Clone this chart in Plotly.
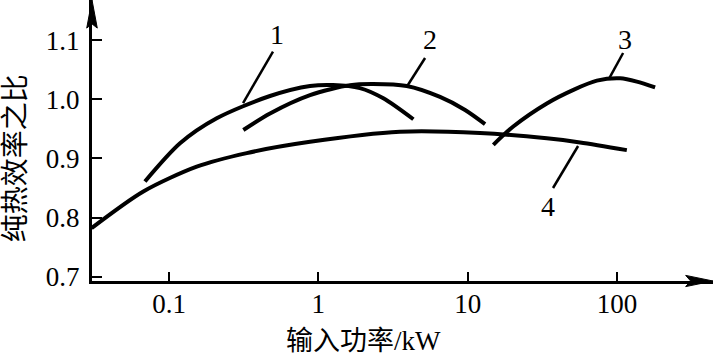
import numpy as np
import plotly.graph_objects as go

# ---- data ----
c1_x = [0.069, 0.1185, 0.2087, 0.4747, 0.880, 1.254, 1.9, 2.725, 4.33]
c1_y = [0.861, 0.9256, 0.9679, 1.0056, 1.0225, 1.0242, 1.019, 1.0017, 0.9662]

c2_x = [0.3146, 0.4747, 0.880, 1.63, 2.325, 3.91, 6.53, 9.61, 13.08]
c2_y = [0.948, 0.976, 1.007, 1.024, 1.026, 1.0225, 1.004, 0.982, 0.958]

c3_x = [14.86, 20.2, 33.9, 51.1, 73.3, 105, 135.8, 180]
c3_y = [0.923, 0.954, 0.993, 1.016, 1.0315, 1.0355, 1.030, 1.020]

c4_x = [0.0303, 0.0673, 0.1533, 0.3315, 0.880, 3.52, 12.11, 33.9, 56.6, 116.4]
c4_y = [0.782, 0.844, 0.886, 0.909, 0.928, 0.945, 0.943, 0.934, 0.927, 0.914]

curve_labels = ["1", "2", "3", "4"]
label_x = [0.526, 5.6, 113, 34.5]
label_y = [1.109, 1.101, 1.101, 0.818]

leader_x = [[0.497, 0.3133], [5.186, 3.91], [109.9, 88.5], [37.3, 54.9]]
leader_y = [[1.0805, 0.9937], [1.0699, 1.0213], [1.0783, 1.0349], [0.8499, 0.921]]

x_ticks = [0.1, 1, 10, 100]
x_ticktext = ["0.1", "1", "10", "100"]
y_ticks = [0.7, 0.8, 0.9, 1.0, 1.1]
y_ticktext = ["0.7", "0.8", "0.9", "1.0", "1.1"]

x_title = "输入功率/kW"
y_title = "纯热效率之比"

FONT = "Liberation Serif, Times New Roman, Noto Sans CJK SC, serif"

fig = go.Figure()
for xs, ys in [(c1_x, c1_y), (c2_x, c2_y), (c3_x, c3_y), (c4_x, c4_y)]:
    fig.add_trace(go.Scatter(x=xs, y=ys, mode="lines",
                             line=dict(color="black", width=4, shape="spline", smoothing=0.8),
                             showlegend=False, hoverinfo="skip"))
for xs, ys in zip(leader_x, leader_y):
    fig.add_trace(go.Scatter(x=xs, y=ys, mode="lines",
                             line=dict(color="black", width=2.5),
                             showlegend=False, hoverinfo="skip"))

for t, lx, ly in zip(curve_labels, label_x, label_y):
    fig.add_annotation(x=np.log10(lx), y=ly, xref="x", yref="y", text=t,
                       showarrow=False, font=dict(family=FONT, size=28, color="black"),
                       xanchor="center", yanchor="middle")

fig.add_annotation(x=0.438, y=-0.215, xref="paper", yref="paper", text=x_title,
                   showarrow=False, font=dict(family=FONT, size=27, color="black"),
                   xanchor="center", yanchor="middle")
fig.add_annotation(x=-0.122, y=0.438, xref="paper", yref="paper", text=y_title,
                   textangle=-90, showarrow=False,
                   font=dict(family=FONT, size=28, color="black"),
                   xanchor="center", yanchor="middle")

# axis arrows
fig.add_shape(type="path", xref="paper", yref="paper",
              path="M 0,1 L 0.0085,0.9 L 0,0.915 L -0.0085,0.9 Z",
              fillcolor="black", line=dict(color="black", width=1))
fig.add_shape(type="path", xref="paper", yref="paper",
              path="M 1,0 L 0.956,0.02 L 0.964,0 L 0.956,-0.02 Z",
              fillcolor="black", line=dict(color="black", width=1))

fig.update_xaxes(type="log", range=[-1.5157, 2.643], showline=True, linewidth=3,
                 linecolor="black", showgrid=False, zeroline=False,
                 tickvals=x_ticks, ticktext=x_ticktext, ticks="inside",
                 ticklen=9, tickwidth=2, tickcolor="black",
                 tickfont=dict(family=FONT, size=27, color="black"),
                 ticklabelstandoff=-3)
fig.update_yaxes(range=[0.69255, 1.16802], showline=True, linewidth=3,
                 linecolor="black", showgrid=False, zeroline=False,
                 tickvals=y_ticks, ticktext=y_ticktext, ticks="inside",
                 ticklen=10, tickwidth=2, tickcolor="black",
                 tickfont=dict(family=FONT, size=27, color="black"),
                 ticklabelstandoff=4)

fig.update_layout(width=715, height=361, margin=dict(l=92, r=2, t=0, b=80),
                  plot_bgcolor="white", paper_bgcolor="white")

fig.write_html("out.html")
